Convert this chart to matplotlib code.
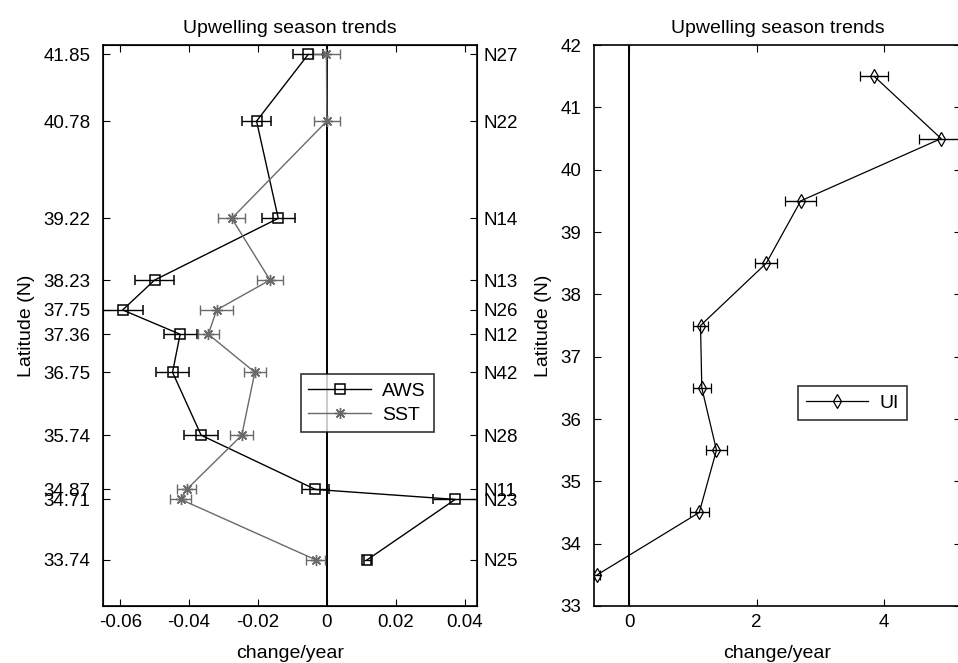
import matplotlib.pyplot as plt
import numpy as np

plt.rcParams['font.family'] = ['Liberation Sans', 'DejaVu Sans']
plt.rcParams['font.size'] = 14

# station latitudes and names (left panel)
lats = [41.85, 40.78, 39.22, 38.23, 37.75, 37.36, 36.75, 35.74, 34.87, 34.71, 33.74]
stations = ['N27', 'N22', 'N14', 'N13', 'N26', 'N12', 'N42', 'N28', 'N11', 'N23', 'N25']

aws = [-0.0054, -0.0204, -0.0141, -0.0500, -0.0593, -0.0426, -0.0448, -0.0365, -0.0033, 0.0373, 0.0117]
aws_err = [0.0044, 0.0041, 0.0048, 0.0057, 0.0058, 0.0048, 0.0049, 0.0049, 0.0040, 0.0065, 0.0010]
sst = [-0.0001, 0.0000, -0.0276, -0.0165, -0.0320, -0.0344, -0.0209, -0.0247, -0.0407, -0.0424, -0.0032]
sst_err = [0.0040, 0.0037, 0.0039, 0.0039, 0.0047, 0.0030, 0.0032, 0.0033, 0.0028, 0.0030, 0.0028]

# upwelling index (right panel)
ui_lat = [41.5, 40.5, 39.5, 38.5, 37.5, 36.5, 35.5, 34.5, 33.5]
ui = [3.84, 4.89, 2.69, 2.15, 1.12, 1.14, 1.37, 1.10, -0.50]
ui_err = [0.22, 0.35, 0.24, 0.17, 0.12, 0.14, 0.165, 0.15, 0.05]

fig = plt.figure(figsize=(9.58, 6.63), dpi=100)
gray = '#6a6a6a'
ast = (8, 2, 0)   # asterisk marker like matlab '*'

ax1 = fig.add_axes([0.1075, 0.086, 0.390, 0.846])
ax1.axvline(0, color='k', lw=1.4, zorder=1)
ax1.errorbar(aws, lats, xerr=aws_err, color='k', marker='s', mfc='none', ms=7.5,
             mew=1.1, lw=1, capsize=3.8, elinewidth=1, label='AWS')
ax1.errorbar(sst, lats, xerr=sst_err, color=gray, marker=ast, ms=8, mew=1,
             lw=1, capsize=3.8, elinewidth=1, label='SST')
ax1.set_xlim(-0.065, 0.0435)
ax1.set_ylim(33, 42)
ax1.set_xticks([-0.06, -0.04, -0.02, 0, 0.02, 0.04])
ax1.set_xticklabels(['-0.06', '-0.04', '-0.02', '0', '0.02', '0.04'])
ax1.set_yticks(lats)
ax1.set_yticklabels(['%.2f' % v for v in lats])
ax1.tick_params(direction='in', top=True, length=5, labelsize=13.5, pad=6)
ax1.tick_params(axis='y', pad=9)
ax1.set_xlabel('change/year', labelpad=10)
ax1.set_ylabel('Latitude (N)', labelpad=6)
ax1.set_title('Upwelling season trends', fontsize=14, pad=9)
h, l = ax1.get_legend_handles_labels()
h = [hh[0] for hh in h]
leg = ax1.legend(h, l, loc='center left', bbox_to_anchor=(0.503, 0.362), fancybox=False,
                 edgecolor='k', handlelength=3.2, fontsize=14, borderpad=0.4,
                 labelspacing=0.35, handletextpad=0.6)
leg.get_frame().set_linewidth(1.2)

ax1r = ax1.twinx()
ax1r.set_ylim(33, 42)
ax1r.set_yticks(lats)
ax1r.set_yticklabels(stations)
ax1r.tick_params(direction='in', length=5, pad=5, labelsize=13.5)

ax2 = fig.add_axes([0.620, 0.086, 0.383, 0.846])
ax2.axvline(0, color='k', lw=1.4, zorder=1)
ax2.errorbar(ui, ui_lat, xerr=ui_err, color='k', marker='d', mfc='none', ms=7,
             mew=0.9, lw=0.9, capsize=3.8, elinewidth=1, label='UI')
ax2.set_xlim(-0.55, 5.2)
ax2.set_ylim(33, 42)
ax2.set_xticks([0, 2, 4])
ax2.set_yticks(np.arange(33, 43))
ax2.tick_params(direction='in', top=True, right=True, length=5, labelsize=13.5, pad=6)
ax2.tick_params(axis='y', pad=9)
ax2.set_xlabel('change/year', labelpad=10)
ax2.set_ylabel('Latitude (N)', labelpad=6)
ax2.set_title('Upwelling season trends', fontsize=14, pad=9)
h, l = ax2.get_legend_handles_labels()
h = [hh[0] for hh in h]
leg2 = ax2.legend(h, l, loc='center left', bbox_to_anchor=(0.53, 0.362), fancybox=False,
                  edgecolor='k', handlelength=3.2, fontsize=14, borderpad=0.4,
                  handletextpad=0.6)
leg2.get_frame().set_linewidth(1.2)

for ax in (ax1, ax2):
    for s in ax.spines.values():
        s.set_linewidth(1.2)

fig.savefig('out.png', dpi=100)
